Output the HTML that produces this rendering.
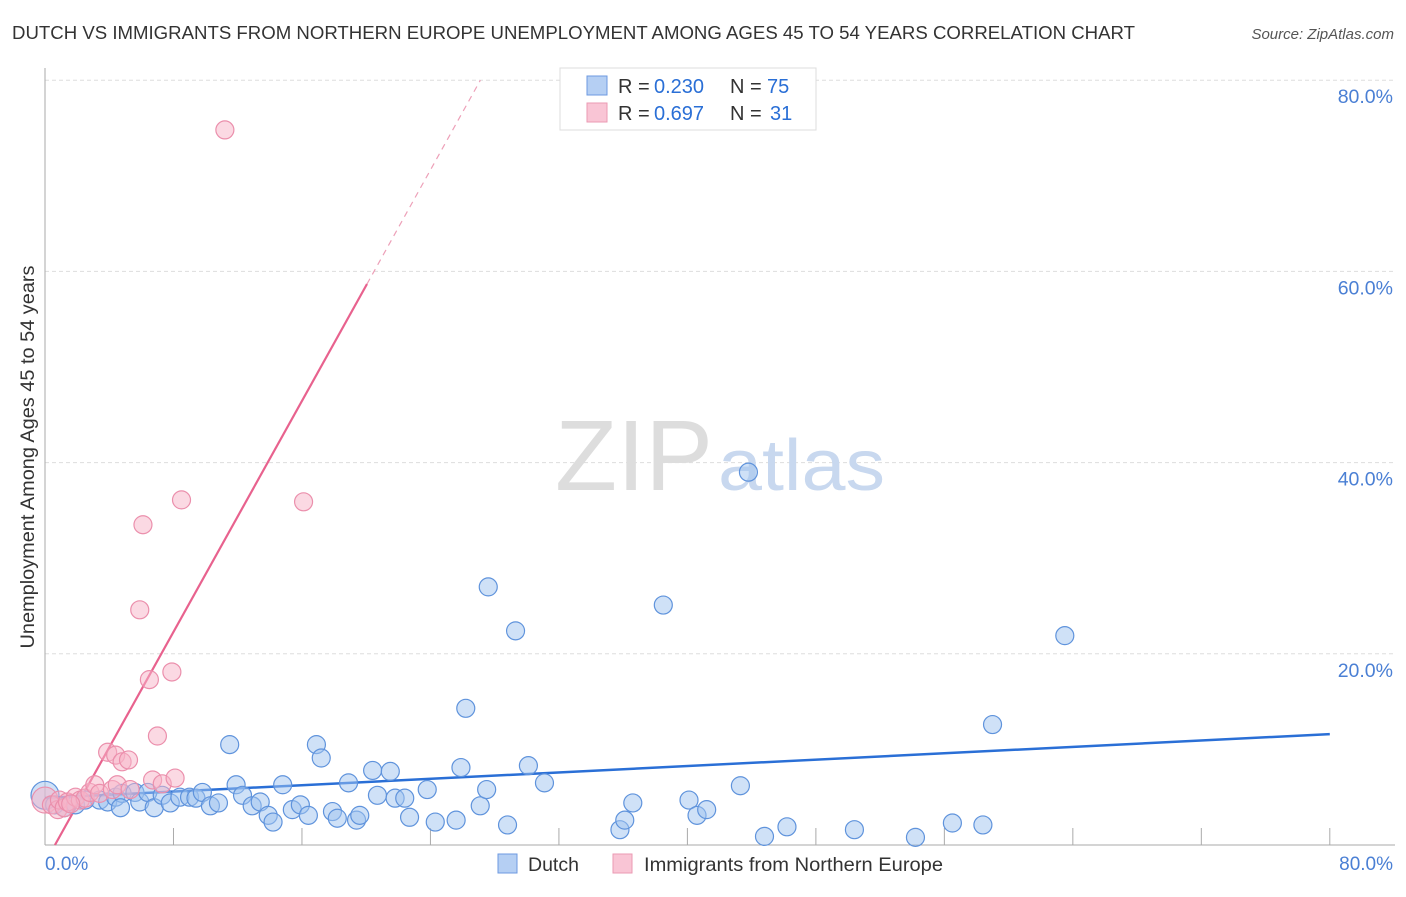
<!DOCTYPE html>
<html><head><meta charset="utf-8"><style>
body{margin:0;background:#fff;font-family:"Liberation Sans",sans-serif}
svg text{font-family:"Liberation Sans",sans-serif}
</style></head><body>
<svg width="1406" height="892" viewBox="0 0 1406 892">
<text x="12" y="39" font-size="18" fill="#333" textLength="1123" lengthAdjust="spacingAndGlyphs">DUTCH VS IMMIGRANTS FROM NORTHERN EUROPE UNEMPLOYMENT AMONG AGES 45 TO 54 YEARS CORRELATION CHART</text>
<text x="1394" y="39" font-size="15" fill="#555" text-anchor="end" font-style="italic">Source: ZipAtlas.com</text>
<g id="grid"></g>
<text x="555" y="490" font-size="100" fill="#ddd" textLength="158" lengthAdjust="spacingAndGlyphs" font-family="Liberation Serif">ZIP</text>
<text x="718" y="490" font-size="72" fill="#c8d8ef" textLength="167" lengthAdjust="spacingAndGlyphs">atlas</text>
<g id="lines"></g>
<g id="pts"></g>
<text transform="translate(34,457) rotate(-90)" font-size="19" fill="#333" text-anchor="middle" textLength="383" lengthAdjust="spacingAndGlyphs">Unemployment Among Ages 45 to 54 years</text>
<text x="45" y="870" font-size="19" fill="#4a7fd4">0.0%</text>
<text x="1393" y="870" font-size="19" fill="#4a7fd4" text-anchor="end">80.0%</text>
<g>
<rect x="560" y="68" width="256" height="62" fill="#fff" stroke="#ddd"/>
<rect x="587" y="76" width="20" height="19" fill="#b5cff3" stroke="#6d9ae0"/>
<rect x="587" y="103" width="20" height="19" fill="#f9c5d5" stroke="#eb9ab3"/>
<text x="618" y="93" font-size="20" fill="#333">R =</text><text x="654" y="93" font-size="20" fill="#2a6fd6">0.230</text>
<text x="730" y="93" font-size="20" fill="#333">N =</text><text x="767" y="93" font-size="20" fill="#2a6fd6">75</text>
<text x="618" y="120" font-size="20" fill="#333">R =</text><text x="654" y="120" font-size="20" fill="#2a6fd6">0.697</text>
<text x="730" y="120" font-size="20" fill="#333">N =</text><text x="770" y="120" font-size="20" fill="#2a6fd6">31</text>
</g>
<g>
<rect x="498" y="854" width="19" height="19" fill="#b5cff3" stroke="#6d9ae0"/>
<text x="528" y="871" font-size="19.5" fill="#333">Dutch</text>
<rect x="613" y="854" width="19" height="19" fill="#f9c5d5" stroke="#eb9ab3"/>
<text x="644" y="871" font-size="19.5" fill="#333" textLength="299" lengthAdjust="spacingAndGlyphs">Immigrants from Northern Europe</text>
</g>
</svg>
<script>
const yTicks=[20,40,60,80];
const yTickLabels=["20.0%","40.0%","60.0%","80.0%"];
const xTicks=[0,8,16,24,32,40,48,56,64,72,80];
const dutchX=[0,0.6,1.2,1.9,2.5,3.4,3.9,4.4,4.8,5.6,5.9,6.4,6.8,7.3,7.8,8.4,9.0,9.4,9.8,10.3,10.8,11.5,11.9,12.3,12.9,13.4,13.9,14.2,14.8,15.4,15.9,16.4,16.9,17.2,17.9,18.2,18.9,19.4,19.6,20.4,20.7,21.5,21.8,22.4,22.7,23.8,24.3,25.6,25.9,26.2,27.1,27.5,27.6,28.8,29.3,30.1,31.1,35.8,36.1,36.6,38.5,40.1,40.6,41.2,43.3,43.8,44.8,46.2,50.4,54.2,56.5,58.4,59.0,63.5,4.7];
const dutchY=[5.2,4.2,3.9,4.2,4.7,4.7,4.5,5.0,5.4,5.5,4.5,5.5,3.9,5.2,4.4,5.0,5.0,4.9,5.5,4.1,4.4,10.5,6.3,5.2,4.1,4.5,3.1,2.4,6.3,3.7,4.2,3.1,10.5,9.1,3.5,2.8,6.5,2.6,3.1,7.8,5.2,7.7,4.9,4.9,2.9,5.8,2.4,2.6,8.1,14.3,4.1,5.8,27.0,2.1,22.4,8.3,6.5,1.6,2.6,4.4,25.1,4.7,3.1,3.7,6.2,39.0,0.9,1.9,1.6,0.8,2.3,2.1,12.6,21.9,3.9];
const immX=[0,0.4,0.8,0.9,1.2,1.4,1.9,2.2,2.5,2.8,3.1,3.4,3.9,4.2,4.4,4.5,4.8,5.2,5.3,5.9,6.1,6.5,6.7,7.0,7.3,7.9,8.1,8.5,11.2,16.1,1.6];
const immY=[4.7,4.2,3.7,4.7,3.9,4.5,5.0,4.7,4.9,5.5,6.3,5.4,9.7,5.8,9.4,6.3,8.7,8.9,5.8,24.6,33.5,17.3,6.8,11.4,6.4,18.1,7.0,36.1,74.8,35.9,4.3];
const dutchTrend=[4.92,11.6];
const immTrend=[-1.87,3.02];
const sx=v=>45+v*16.06, sy=v=>845-v*9.56;
const NS="http://www.w3.org/2000/svg";
function mk(t,a,p){const e=document.createElementNS(NS,t);for(const k in a)e.setAttribute(k,a[k]);p.appendChild(e);return e;}
const g=document.getElementById('grid');
yTicks.forEach((t,i)=>{
 const l=mk('line',{x1:45,x2:1395,y1:sy(t),y2:sy(t),stroke:'#ddd','stroke-dasharray':'4,3'},g);
 
 
 const tx=mk('text',{x:1393,y:sy(t)+23,'font-size':19.5,fill:'#4a7fd4','text-anchor':'end'},g);
 tx.textContent=yTickLabels[i];
 
 
});
const ax=mk('line',{x1:45,x2:45,y1:68,y2:845,stroke:'#aaa'},g);


const bx=mk('line',{x1:45,x2:1395,y1:845,y2:845,stroke:'#aaa'},g);


xTicks.forEach(t=>{const l=mk('line',{x1:sx(t),x2:sx(t),y1:845,y2:828,stroke:'#aaa'},g);
 
 });
const L=document.getElementById('lines');
const P=document.getElementById('pts');
dutchX.forEach((x,i)=>{const c=mk('circle',{cx:sx(x),cy:sy(dutchY[i]),r:i==0?14:9,fill:'rgba(160,196,240,0.5)',stroke:'#5f93dc','stroke-width':1.2},P);
 
 });
immX.forEach((x,i)=>{const c=mk('circle',{cx:sx(x),cy:sy(immY[i]),r:i==0?13:9,fill:'rgba(248,180,200,0.5)',stroke:'#eb8fac','stroke-width':1.2},P);
 
 });
const bl=mk('line',{x1:sx(0),y1:sy(dutchTrend[0]),x2:sx(80),y2:sy(dutchTrend[1]),stroke:'#2a6fd6','stroke-width':2.5},L);


const x0=-immTrend[0]/immTrend[1], x1=20.05, x2=(80-immTrend[0])/immTrend[1];
const pl=mk('line',{x1:sx(x0),y1:sy(0),x2:sx(x1),y2:sy(immTrend[0]+immTrend[1]*x1),stroke:'#e8628e','stroke-width':2.2},L);


const pd=mk('line',{x1:sx(x1),y1:sy(immTrend[0]+immTrend[1]*x1),x2:sx(x2),y2:sy(80),stroke:'#eda0b8','stroke-width':1.2,'stroke-dasharray':'6,5'},L);


</script>
</body></html>
